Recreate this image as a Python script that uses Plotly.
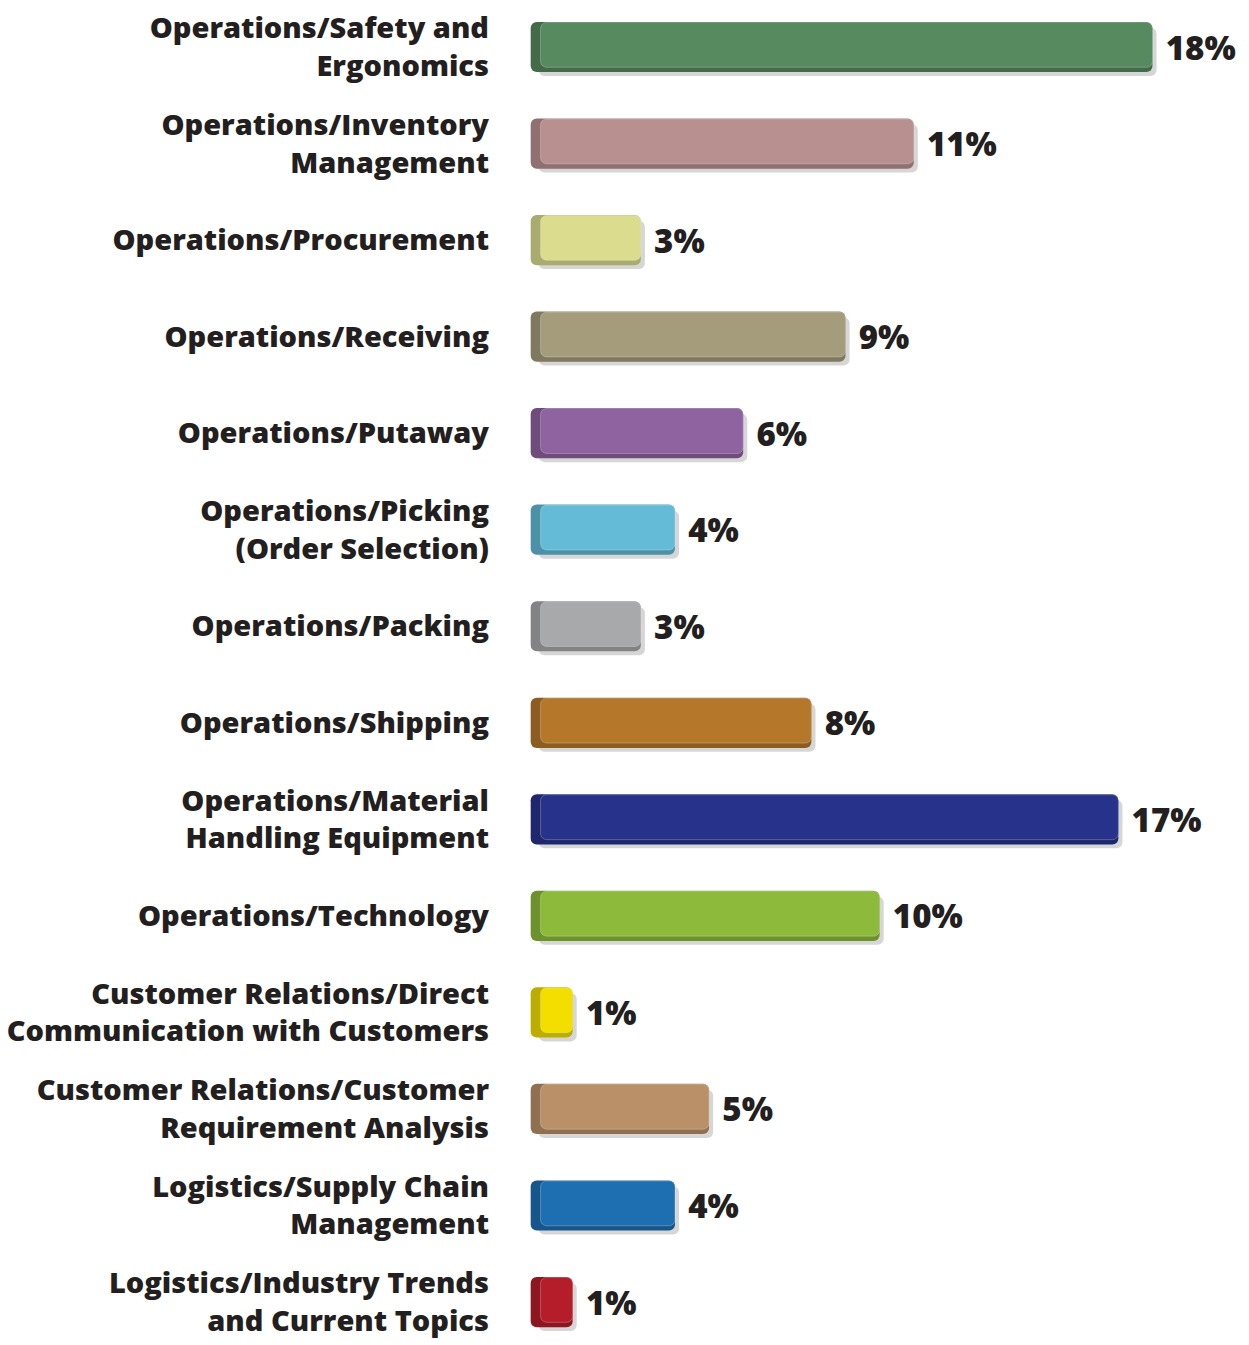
import plotly.graph_objects as go

categories = [
    "Operations/Safety and<br>Ergonomics",
    "Operations/Inventory<br>Management",
    "Operations/Procurement",
    "Operations/Receiving",
    "Operations/Putaway",
    "Operations/Picking<br>(Order Selection)",
    "Operations/Packing",
    "Operations/Shipping",
    "Operations/Material<br>Handling Equipment",
    "Operations/Technology",
    "Customer Relations/Direct<br>Communication with Customers",
    "Customer Relations/Customer<br>Requirement Analysis",
    "Logistics/Supply Chain<br>Management",
    "Logistics/Industry Trends<br>and Current Topics",
]
values = [18, 11, 3, 9, 6, 4, 3, 8, 17, 10, 1, 5, 4, 1]
colors = [
    "#578a5e", "#b99090", "#dbdc8e", "#a49c7a", "#8f62a0", "#63bbd8", "#a8a9ab",
    "#b5772a", "#27338a", "#8dba3a", "#f2df00", "#b99068", "#1e6fb2", "#b51d2a",
]
value_labels = [f"{v}%" for v in values]


def darken(hexc, f=0.78):
    h = hexc.lstrip("#")
    r, g, b = (int(h[i:i + 2], 16) for i in (0, 2, 4))
    return "rgb({},{},{})".format(int(r * f), int(g * f), int(b * f))


side_base = -0.23
fig = go.Figure()

# drop shadow
fig.add_trace(go.Bar(
    y=categories, x=[v + 0.12 for v in values], base=0.0,
    orientation="h", width=0.5, offset=-0.2,
    marker=dict(color="rgba(0,0,0,0.16)", line=dict(width=0)),
    hoverinfo="skip", showlegend=False,
))
# darker side / body
fig.add_trace(go.Bar(
    y=categories, x=[v - side_base for v in values], base=side_base,
    orientation="h", width=0.52, offset=-0.26,
    marker=dict(color=[darken(c) for c in colors], line=dict(width=0)),
    hoverinfo="skip", showlegend=False,
))
# front face
fig.add_trace(go.Bar(
    y=categories, x=[v - 0.06 for v in values], base=0.06,
    orientation="h", width=0.465, offset=-0.255,
    marker=dict(color=colors, line=dict(width=1, color="rgba(255,255,255,0.25)")),
    hoverinfo="skip", showlegend=False,
))
# value labels
fig.add_trace(go.Bar(
    y=categories, x=[v + 0.3 for v in values], base=0,
    orientation="h", width=0.52, offset=-0.26,
    marker=dict(color="rgba(0,0,0,0)", line=dict(width=0)),
    text=value_labels, textposition="outside", cliponaxis=False,
    textfont=dict(family="Open Sans", size=33, color="#231f20", weight=800),
    hoverinfo="skip", showlegend=False,
))

fig.update_layout(
    width=1241, height=1337,
    margin=dict(l=522, r=0, t=0, b=0, autoexpand=False),
    paper_bgcolor="white", plot_bgcolor="white",
    barmode="overlay", barcornerradius=6,
    xaxis=dict(range=[-0.25, 20.83], visible=False, showgrid=False, zeroline=False,
               automargin=False),
    yaxis=dict(
        categoryorder="array", categoryarray=categories,
        range=[13.445, -0.404], showgrid=False, zeroline=False, showline=False,
        ticks="", ticklabelstandoff=40, automargin=False,
        tickfont=dict(family="Open Sans", size=29, color="#231f20", weight=800),
    ),
    uniformtext=dict(mode=False),
)

fig.write_html("out.html")
